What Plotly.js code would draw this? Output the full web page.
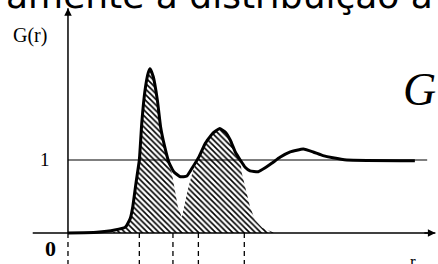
<!DOCTYPE html>
<html><head><meta charset="utf-8">
<script src="https://cdn.plot.ly/plotly-3.0.1.min.js"></script>
<style>html,body{margin:0;padding:0;background:#fff;overflow:hidden}#chart{width:438px;height:264px}</style>
</head><body><div id="chart"></div>
<script>
// Radial distribution function G(r) (r in units of first-neighbour distance)
const r = [0, 0.35, 0.57, 0.70, 0.76, 0.79, 0.83, 0.87, 0.90, 0.94, 0.98, 1.00, 1.04, 1.09, 1.13, 1.18, 1.23, 1.29, 1.37, 1.45, 1.52, 1.60, 1.67, 1.76, 1.85, 1.92, 1.98, 2.04, 2.10, 2.16, 2.22, 2.32, 2.40, 2.49, 2.59, 2.71, 2.87, 2.99, 3.11, 3.23, 3.40, 4.23];
const G = [0, 0.01, 0.04, 0.08, 0.20, 0.36, 0.69, 1.00, 1.51, 1.96, 2.20, 2.25, 2.14, 1.82, 1.45, 1.18, 0.97, 0.84, 0.77, 0.78, 0.90, 1.05, 1.22, 1.36, 1.43, 1.38, 1.27, 1.11, 1.00, 0.90, 0.85, 0.84, 0.89, 0.96, 1.04, 1.11, 1.15, 1.11, 1.06, 1.03, 1.00, 0.99];
// first coordination shell (hatched)
const shell1R = [0.55, 0.57, 0.70, 0.76, 0.79, 0.83, 0.87, 0.90, 0.94, 0.98, 1.00, 1.04, 1.09, 1.13, 1.18, 1.23, 1.26, 1.34, 1.46, 0.55];
const shell1G = [0, 0.04, 0.08, 0.20, 0.36, 0.69, 1.00, 1.51, 1.96, 2.20, 2.25, 2.14, 1.82, 1.45, 1.18, 0.97, 0.86, 0.36, 0, 0];
// second coordination shell (hatched)
const shell2R = [1.32, 1.39, 1.46, 1.52, 1.60, 1.67, 1.76, 1.85, 1.92, 1.98, 2.04, 2.10, 2.12, 2.17, 2.22, 2.28, 2.37, 2.52, 1.32];
const shell2G = [0, 0.22, 0.59, 0.84, 1.05, 1.22, 1.36, 1.43, 1.38, 1.27, 1.11, 1.00, 0.82, 0.59, 0.36, 0.18, 0.07, 0, 0];
// shell boundaries (dashed markers)
const markR = [0, 0.87, 1.28, 1.59, 2.15];
const unitLevelR = [0, 4.38];
const unitLevelG = [1, 1];
// axis extents
const xAxisR = [-0.43, 4.48];
const yAxisG = [0, 3.08];

const W = 438, H = 264;
const px = x => x / W, py = y => 1 - y / H;
const hatch = {shape: '\\', fgcolor: '#000', bgcolor: '#fff', size: 4, solidity: 0.4};

const traces = [
  {x: shell1R, y: shell1G, mode: 'lines', fill: 'toself', line: {width: 0, color: 'rgba(0,0,0,0)'}, fillcolor: '#fff', fillpattern: hatch, hoverinfo: 'skip'},
  {x: shell2R, y: shell2G, mode: 'lines', fill: 'toself', line: {width: 0, color: 'rgba(0,0,0,0)'}, fillcolor: '#fff', fillpattern: hatch, hoverinfo: 'skip'},
  {x: unitLevelR, y: unitLevelG, mode: 'lines', line: {color: '#000', width: 1.2}},
  {x: r, y: G, mode: 'lines', line: {color: '#000', width: 3, shape: 'spline', smoothing: 0.4}}
];

const shapes = markR.map(v => ({type: 'line', xref: 'x', yref: 'y', x0: v, x1: v, y0: 0, y1: -0.5,
  line: {color: '#000', width: 1.3, dash: '5px,4px'}}));
shapes.push({type: 'line', xref: 'x', yref: 'y', x0: xAxisR[0], x1: xAxisR[1], y0: 0, y1: 0, line: {color: '#000', width: 1.5}});
shapes.push({type: 'line', xref: 'x', yref: 'y', x0: 0, x1: 0, y0: yAxisG[0], y1: yAxisG[1], line: {color: '#000', width: 1.5}});

const serif = 'Liberation Serif, DejaVu Serif, serif';
const lab = (x, y, text, size, family) => ({x: px(x), y: py(y), xref: 'paper', yref: 'paper', xanchor: 'center', yanchor: 'middle',
  text, showarrow: false, font: {family: family || serif, size, color: '#000'}});
const title = lab(219, 0, 'amente a distribuição a', 36, 'DejaVu Sans, sans-serif');
title.yshift = 5;
const annotations = [
  {x: 0, y: yAxisG[1], xref: 'x', yref: 'y', ax: 0, ay: 14, showarrow: true, arrowhead: 2, arrowsize: 1, arrowwidth: 1.5, arrowcolor: '#000', text: ' ', standoff: 0},
  {x: xAxisR[1], y: 0, xref: 'x', yref: 'y', ax: -14, ay: 0, showarrow: true, arrowhead: 2, arrowsize: 1, arrowwidth: 1.5, arrowcolor: '#000', text: ' ', standoff: 0},
  lab(30, 35, 'G(r)', 20),
  lab(45, 159, '1', 19),
  lab(50, 248, '<b>0</b>', 22),
  lab(413, 261, 'r', 17),
  lab(419, 89, '<i>G</i>', 46),
  title
];

const layout = {
  width: W, height: H, margin: {l: 0, r: 0, t: 0, b: 0},
  paper_bgcolor: '#fff', plot_bgcolor: '#fff', showlegend: false,
  xaxis: {range: [-0.829, 4.512], visible: false, fixedrange: true},
  yaxis: {range: [-0.425, 3.192], visible: false, fixedrange: true},
  shapes, annotations
};
Plotly.newPlot('chart', traces, layout, {staticPlot: true, displayModeBar: false});
</script>
</body></html>
